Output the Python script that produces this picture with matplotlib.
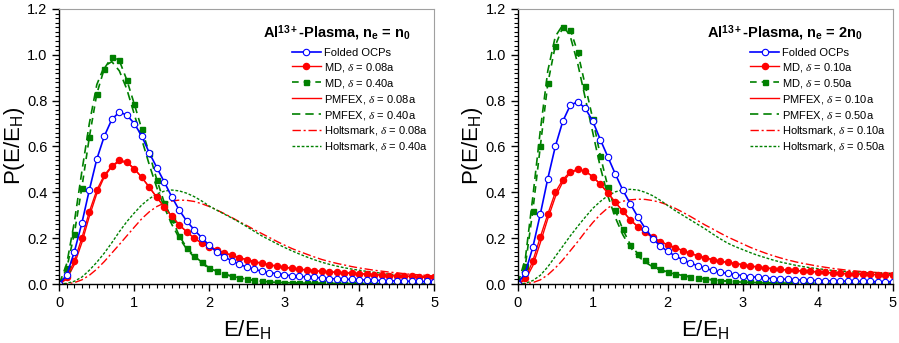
import numpy as np
import matplotlib
matplotlib.use("Agg")
import matplotlib.pyplot as plt
from matplotlib.ticker import MultipleLocator

plt.rcParams['font.family'] = ['Liberation Sans', 'DejaVu Sans']
plt.rcParams['mathtext.fontset'] = 'custom'
plt.rcParams['mathtext.rm'] = 'Liberation Sans'
plt.rcParams['mathtext.bf'] = 'Liberation Sans:bold'
plt.rcParams['mathtext.it'] = 'Liberation Serif:italic'

# E/E_H grid, 0.0 ... 5.0 in steps of 0.1
e = np.round(np.arange(0, 51) * 0.1, 1)

# ---- left panel: n_e = n_0 ----
ocp_l = [0, 0.04, 0.14, 0.265, 0.41, 0.545, 0.645, 0.718, 0.75, 0.737,
         0.70, 0.645, 0.572, 0.508, 0.445, 0.38, 0.322, 0.274, 0.236, 0.202,
         0.168, 0.14, 0.118, 0.102, 0.086, 0.074, 0.064, 0.056, 0.05, 0.045,
         0.04, 0.036, 0.033, 0.031, 0.029, 0.026, 0.024, 0.022, 0.021, 0.02,
         0.018, 0.017, 0.016, 0.015, 0.014, 0.013, 0.012, 0.012, 0.011, 0.011, 0.01]
md1_l = [0, 0.03, 0.1, 0.2, 0.315, 0.41, 0.475, 0.515, 0.54, 0.533,
         0.503, 0.465, 0.422, 0.378, 0.336, 0.295, 0.258, 0.227, 0.2, 0.178,
         0.162, 0.149, 0.136, 0.125, 0.115, 0.106, 0.098, 0.09, 0.084, 0.078,
         0.073, 0.069, 0.065, 0.061, 0.058, 0.055, 0.053, 0.051, 0.049, 0.047,
         0.045, 0.043, 0.041, 0.039, 0.037, 0.036, 0.034, 0.033, 0.031, 0.03, 0.029]
md2_l = [0, 0.07, 0.22, 0.42, 0.64, 0.83, 0.94, 0.99, 0.975, 0.89,
         0.785, 0.675, 0.57, 0.455, 0.355, 0.285, 0.21, 0.158, 0.122, 0.095,
         0.07, 0.056, 0.043, 0.034, 0.028, 0.02, 0.016, 0.012, 0.009, 0.007,
         0.006, 0.005, 0.004, 0.004, 0.003, 0.003, 0.002, 0.002, 0.002, 0.002,
         0.002, 0.002, 0.001, 0.001, 0.001, 0.001, 0.001, 0.001, 0.001, 0.001, 0.001]
pm1_l = [0, 0.022, 0.085, 0.18, 0.295, 0.395, 0.468, 0.512, 0.535, 0.53,
         0.502, 0.465, 0.422, 0.378, 0.336, 0.295, 0.258, 0.227, 0.2, 0.178,
         0.162, 0.149, 0.136, 0.125, 0.115, 0.106, 0.098, 0.09, 0.084, 0.078,
         0.073, 0.069, 0.065, 0.061, 0.058, 0.055, 0.053, 0.051, 0.049, 0.047,
         0.045, 0.043, 0.041, 0.039, 0.037, 0.036, 0.034, 0.033, 0.031, 0.03, 0.029]
pm2_l = [0, 0.09, 0.27, 0.49, 0.7, 0.87, 0.95, 0.97, 0.93, 0.85,
         0.74, 0.63, 0.52, 0.42, 0.335, 0.26, 0.2, 0.152, 0.117, 0.09,
         0.068, 0.056, 0.043, 0.034, 0.028, 0.02, 0.016, 0.012, 0.009, 0.007,
         0.006, 0.005, 0.004, 0.004, 0.003, 0.003, 0.002, 0.002, 0.002, 0.002,
         0.002, 0.002, 0.001, 0.001, 0.001, 0.001, 0.001, 0.001, 0.001, 0.001, 0.001]
ho1_l = [0, 0.001, 0.006, 0.018, 0.038, 0.065, 0.098, 0.135, 0.172, 0.21,
         0.248, 0.285, 0.315, 0.338, 0.353, 0.362, 0.366, 0.365, 0.36, 0.35,
         0.338, 0.323, 0.307, 0.29, 0.272, 0.255, 0.237, 0.22, 0.203, 0.186,
         0.17, 0.155, 0.142, 0.13, 0.118, 0.107, 0.098, 0.09, 0.083, 0.076,
         0.07, 0.065, 0.06, 0.056, 0.052, 0.049, 0.045, 0.042, 0.04, 0.037, 0.035]
ho2_l = [0, 0.003, 0.012, 0.03, 0.06, 0.095, 0.135, 0.18, 0.228, 0.272,
         0.31, 0.345, 0.372, 0.393, 0.405, 0.41, 0.406, 0.396, 0.381, 0.362,
         0.34, 0.322, 0.305, 0.288, 0.27, 0.25, 0.23, 0.21, 0.193, 0.176,
         0.16, 0.145, 0.131, 0.118, 0.106, 0.095, 0.086, 0.078, 0.071, 0.065,
         0.06, 0.055, 0.051, 0.047, 0.043, 0.04, 0.037, 0.035, 0.032, 0.03, 0.028]

# ---- right panel: n_e = 2 n_0 ----
ocp_r = [0, 0.05, 0.16, 0.305, 0.46, 0.6, 0.71, 0.78, 0.795, 0.766,
         0.71, 0.63, 0.555, 0.48, 0.41, 0.35, 0.293, 0.242, 0.198, 0.166,
         0.142, 0.122, 0.106, 0.092, 0.079, 0.068, 0.059, 0.052, 0.046, 0.041,
         0.036, 0.032, 0.029, 0.026, 0.024, 0.022, 0.02, 0.018, 0.017, 0.016,
         0.015, 0.014, 0.013, 0.013, 0.012, 0.012, 0.011, 0.011, 0.01, 0.01, 0.01]
md1_r = [0, 0.025, 0.1, 0.205, 0.305, 0.4, 0.455, 0.49, 0.5, 0.492,
         0.468, 0.435, 0.398, 0.356, 0.318, 0.28, 0.25, 0.225, 0.203, 0.185,
         0.171, 0.158, 0.146, 0.134, 0.123, 0.114, 0.106, 0.1, 0.094, 0.089,
         0.084, 0.079, 0.074, 0.07, 0.067, 0.064, 0.061, 0.059, 0.057, 0.055,
         0.053, 0.051, 0.048, 0.046, 0.045, 0.044, 0.043, 0.042, 0.041, 0.04, 0.039]
md2_r = [0, 0.08, 0.32, 0.6, 0.875, 1.04, 1.12, 1.11, 1.01, 0.865,
         0.72, 0.56, 0.425, 0.322, 0.238, 0.172, 0.132, 0.103, 0.081, 0.064,
         0.052, 0.044, 0.037, 0.031, 0.026, 0.022, 0.018, 0.015, 0.012, 0.01,
         0.008, 0.007, 0.006, 0.005, 0.005, 0.004, 0.004, 0.003, 0.003, 0.003,
         0.003, 0.002, 0.002, 0.002, 0.002, 0.002, 0.002, 0.002, 0.002, 0.002, 0.002]
pm1_r = [0, 0.018, 0.08, 0.18, 0.285, 0.38, 0.445, 0.485, 0.498, 0.492,
         0.468, 0.435, 0.398, 0.356, 0.318, 0.28, 0.25, 0.225, 0.203, 0.185,
         0.171, 0.158, 0.146, 0.134, 0.123, 0.114, 0.106, 0.1, 0.094, 0.089,
         0.084, 0.079, 0.074, 0.07, 0.067, 0.064, 0.061, 0.059, 0.057, 0.055,
         0.053, 0.051, 0.048, 0.046, 0.045, 0.044, 0.043, 0.042, 0.041, 0.04, 0.039]
pm2_r = [0, 0.11, 0.38, 0.67, 0.93, 1.08, 1.13, 1.08, 0.96, 0.81,
         0.66, 0.51, 0.385, 0.29, 0.215, 0.16, 0.122, 0.095, 0.075, 0.06,
         0.049, 0.044, 0.037, 0.031, 0.026, 0.022, 0.018, 0.015, 0.012, 0.01,
         0.008, 0.007, 0.006, 0.005, 0.005, 0.004, 0.004, 0.003, 0.003, 0.003,
         0.003, 0.002, 0.002, 0.002, 0.002, 0.002, 0.002, 0.002, 0.002, 0.002, 0.002]
ho1_r = [0, 0.001, 0.006, 0.018, 0.04, 0.07, 0.105, 0.145, 0.185, 0.228,
         0.268, 0.303, 0.332, 0.35, 0.361, 0.367, 0.37, 0.369, 0.364, 0.356,
         0.345, 0.33, 0.313, 0.295, 0.276, 0.257, 0.24, 0.222, 0.205, 0.19,
         0.175, 0.16, 0.147, 0.135, 0.124, 0.114, 0.105, 0.097, 0.09, 0.084,
         0.078, 0.073, 0.068, 0.064, 0.06, 0.057, 0.054, 0.052, 0.05, 0.048, 0.047]
ho2_r = [0, 0.003, 0.015, 0.038, 0.075, 0.12, 0.165, 0.21, 0.252, 0.292,
         0.33, 0.36, 0.385, 0.402, 0.411, 0.413, 0.41, 0.4, 0.385, 0.365,
         0.342, 0.32, 0.3, 0.28, 0.26, 0.24, 0.218, 0.197, 0.178, 0.163,
         0.15, 0.137, 0.125, 0.115, 0.105, 0.096, 0.089, 0.082, 0.076, 0.071,
         0.067, 0.063, 0.059, 0.056, 0.054, 0.052, 0.05, 0.048, 0.047, 0.045, 0.044]

deltas_l = ['0.08a', '0.40a']
deltas_r = ['0.10a', '0.50a']

RED = '#ff0000'
BLUE = '#0000ff'
GREEN = '#008000'


def panel(ax, ocp, md1, md2, pm1, pm2, ho1, ho2, deltas, title, title_x):
    h_ho1, = ax.plot(e, ho1, color=RED, lw=1.0, dashes=(6, 2, 1.5, 2),
                     label=r'Holtsmark, $\delta$ = ' + deltas[0])
    h_ho2, = ax.plot(e, ho2, color=GREEN, lw=1.0, dashes=(2, 1.3),
                     label=r'Holtsmark, $\delta$ = ' + deltas[1])
    h_pm1, = ax.plot(e, pm1, color=RED, lw=1.0,
                     label=r'PMFEX, $\delta$ = ' + deltas[0])
    h_pm2, = ax.plot(e, pm2, color=GREEN, lw=1.2, dashes=(5, 3),
                     label=r'PMFEX, $\delta$ = ' + deltas[1])
    h_md2, = ax.plot(e, md2, color=GREEN, lw=1.2, dashes=(4, 3), marker='s',
                     ms=3.6, mfc=GREEN, mec=GREEN,
                     label=r'MD, $\delta$ = ' + deltas[1])
    h_md1, = ax.plot(e, md1, color=RED, lw=1.0, marker='o', ms=4.4,
                     mfc=RED, mec=RED, label=r'MD, $\delta$ = ' + deltas[0])
    h_ocp, = ax.plot(e, ocp, color=BLUE, lw=1.2, marker='o', ms=4.6,
                     mfc='white', mec=BLUE, mew=0.8, label='Folded OCPs')

    ax.set_xlim(0, 5)
    ax.set_ylim(0, 1.2)
    ax.xaxis.set_major_locator(MultipleLocator(1))
    ax.xaxis.set_minor_locator(MultipleLocator(0.1))
    ax.yaxis.set_major_locator(MultipleLocator(0.2))
    ax.yaxis.set_minor_locator(MultipleLocator(0.02))
    ax.yaxis.set_major_formatter(matplotlib.ticker.FormatStrFormatter('%.1f'))
    ax.tick_params(which='major', direction='out', length=5, width=1,
                   labelsize=10.5, top=False, right=False)
    ax.tick_params(which='minor', direction='out', length=3, width=0.8,
                   top=False, right=False)
    for s in ['top', 'right']:
        ax.spines[s].set_color('#a0a0a0')
        ax.spines[s].set_linewidth(0.8)
    for s in ['left', 'bottom']:
        ax.spines[s].set_linewidth(1.0)

    ax.set_xlabel(r'E/E$_\mathregular{H}$', fontsize=16)
    ax.set_ylabel(r'P(E/E$_\mathregular{H}$)', fontsize=16)
    ax.xaxis.set_label_coords(0.5, -0.165)
    ax.xaxis.label.set_verticalalignment('center')
    ax.yaxis.set_label_coords(-0.12, 0.5)
    ax.yaxis.label.set_verticalalignment('center')
    ax.yaxis.label.set_horizontalalignment('center')

    ax.text(title_x, 0.913, title, transform=ax.transAxes, ha='center',
            va='center', fontsize=10.5, fontweight='bold')
    handles = [h_ocp, h_md1, h_md2, h_pm1, h_pm2, h_ho1, h_ho2]
    ax.legend(handles=handles, loc='upper left', bbox_to_anchor=(0.62, 0.858),
              frameon=False, fontsize=8, handlelength=2.6, handletextpad=0.3,
              labelspacing=0.26, borderaxespad=0, borderpad=0)


fig = plt.figure(figsize=(8.99, 3.43), dpi=100)
ax1 = fig.add_axes([0.066, 0.172, 0.417, 0.802])
ax2 = fig.add_axes([0.576, 0.172, 0.417, 0.802])

panel(ax1, ocp_l, md1_l, md2_l, pm1_l, pm2_l, ho1_l, ho2_l, deltas_l,
      r'Al$^{\mathbf{13+}}$-Plasma, n$_{\mathbf{e}}$ = n$_{\mathbf{0}}$', 0.74)
panel(ax2, ocp_r, md1_r, md2_r, pm1_r, pm2_r, ho1_r, ho2_r, deltas_r,
      r'Al$^{\mathbf{13+}}$-Plasma, n$_{\mathbf{e}}$ = 2n$_{\mathbf{0}}$', 0.713)

fig.savefig('out.png', dpi=100)
